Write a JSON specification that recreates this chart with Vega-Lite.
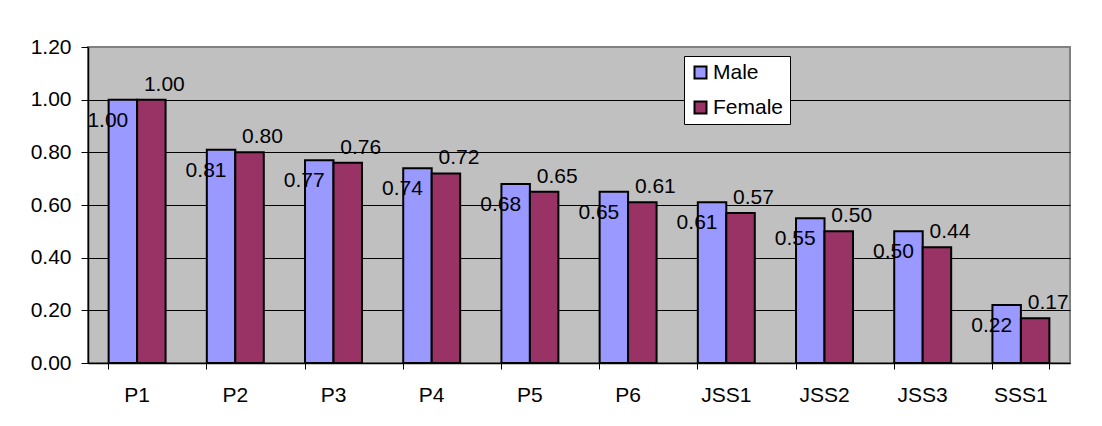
{
  "$schema": "https://vega.github.io/schema/vega-lite/v6.json",
  "width": 982,
  "height": 316,
  "autosize": {"type": "none"},
  "padding": {"left": 88, "top": 47, "right": 32, "bottom": 63},
  "background": "white",
  "config": {
    "font": "Liberation Sans",
    "view": {"fill": "#C0C0C0", "stroke": "#808080", "strokeWidth": 2},
    "axis": {"labelColor": "black", "labelFont": "Liberation Sans", "labelFontSize": 21, "title": null}
  },
  "data": {
    "values": [
      {"grade": "P1", "sex": "Male", "value": 1.00},
      {"grade": "P1", "sex": "Female", "value": 1.00},
      {"grade": "P2", "sex": "Male", "value": 0.81},
      {"grade": "P2", "sex": "Female", "value": 0.80},
      {"grade": "P3", "sex": "Male", "value": 0.77},
      {"grade": "P3", "sex": "Female", "value": 0.76},
      {"grade": "P4", "sex": "Male", "value": 0.74},
      {"grade": "P4", "sex": "Female", "value": 0.72},
      {"grade": "P5", "sex": "Male", "value": 0.68},
      {"grade": "P5", "sex": "Female", "value": 0.65},
      {"grade": "P6", "sex": "Male", "value": 0.65},
      {"grade": "P6", "sex": "Female", "value": 0.61},
      {"grade": "JSS1", "sex": "Male", "value": 0.61},
      {"grade": "JSS1", "sex": "Female", "value": 0.57},
      {"grade": "JSS2", "sex": "Male", "value": 0.55},
      {"grade": "JSS2", "sex": "Female", "value": 0.50},
      {"grade": "JSS3", "sex": "Male", "value": 0.50},
      {"grade": "JSS3", "sex": "Female", "value": 0.44},
      {"grade": "SSS1", "sex": "Male", "value": 0.22},
      {"grade": "SSS1", "sex": "Female", "value": 0.17}
    ]
  },
  "resolve": {"axis": {"x": "independent"}},
  "layer": [
    {
      "mark": {"type": "bar", "stroke": "black", "strokeWidth": 2},
      "encoding": {
        "x": {
          "field": "grade", "type": "nominal", "sort": null,
          "scale": {"paddingInner": 0.42, "paddingOuter": 0.21},
          "axis": {"orient": "bottom", "ticks": false, "domain": false, "labelAngle": 0, "labelPadding": 21}
        },
        "xOffset": {"field": "sex", "type": "nominal", "sort": ["Male", "Female"], "scale": {"paddingInner": 0, "paddingOuter": 0}},
        "y": {
          "field": "value", "type": "quantitative",
          "scale": {"domain": [0, 1.2], "nice": false},
          "axis": {
            "values": [0, 0.2, 0.4, 0.6, 0.8, 1, 1.2],
            "format": ".2f",
            "domainColor": "black", "domainWidth": 1.5,
            "tickColor": "black", "tickSize": 7, "labelPadding": 10,
            "grid": true,
            "gridColor": {"condition": {"test": "datum.value >= 1.2", "value": "#808080"}, "value": "black"},
            "gridWidth": 1
          }
        },
        "color": {
          "field": "sex", "type": "nominal",
          "scale": {"domain": ["Male", "Female"], "range": ["#9999FF", "#993366"]},
          "legend": {
            "title": null, "orient": "none", "legendX": 596, "legendY": 9,
            "fillColor": "white", "strokeColor": "black", "padding": 6,
            "symbolType": "square", "symbolSize": 144,
            "symbolStrokeColor": "black", "symbolStrokeWidth": 2,
            "labelFontSize": 21, "labelColor": "black", "labelOffset": 2, "rowPadding": 13
          }
        }
      }
    },
    {
      "transform": [{"filter": "datum.sex === 'Male'"}],
      "mark": {"type": "text", "fontSize": 21, "color": "black", "baseline": "middle", "dx": -15, "dy": 21},
      "encoding": {
        "x": {
          "field": "grade", "type": "nominal", "sort": null,
          "axis": {"orient": "bottom", "labels": false, "bandPosition": 0, "ticks": true, "tickSize": 6, "tickColor": "black", "domain": true, "domainColor": "black", "domainWidth": 1.5, "grid": false}
        },
        "xOffset": {"field": "sex", "type": "nominal", "sort": ["Male", "Female"]},
        "y": {"field": "value", "type": "quantitative"},
        "text": {"field": "value", "type": "quantitative", "format": ".2f"}
      }
    },
    {
      "transform": [{"filter": "datum.sex === 'Female'"}],
      "mark": {"type": "text", "fontSize": 21, "color": "black", "baseline": "middle", "dx": 13, "dy": -15},
      "encoding": {
        "x": {
          "field": "grade", "type": "nominal", "sort": null,
          "axis": {"orient": "bottom", "labels": false, "values": ["SSS1"], "bandPosition": 1, "ticks": true, "tickSize": 6, "tickColor": "black", "domain": false, "grid": false}
        },
        "xOffset": {"field": "sex", "type": "nominal", "sort": ["Male", "Female"]},
        "y": {"field": "value", "type": "quantitative"},
        "text": {"field": "value", "type": "quantitative", "format": ".2f"}
      }
    }
  ]
}
